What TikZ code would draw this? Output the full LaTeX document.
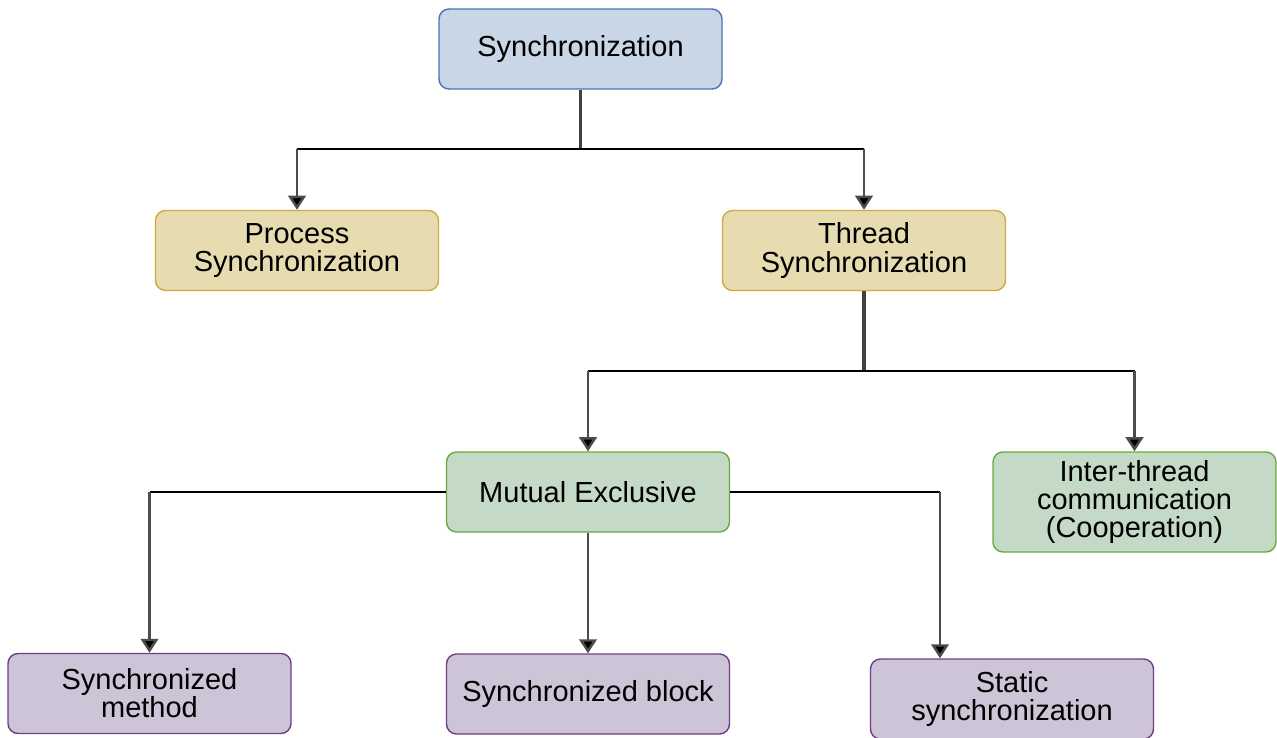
\documentclass[tikz,border=0pt]{standalone}
\usepackage{fontspec}
\setmainfont{Liberation Sans}
\usetikzlibrary{arrows.meta}

\definecolor{blueFill}{RGB}{200,214,230}
\definecolor{blueLine}{RGB}{74,114,184}
\definecolor{yellowFill}{RGB}{230,220,176}
\definecolor{yellowLine}{RGB}{212,170,62}
\definecolor{greenFill}{RGB}{197,218,198}
\definecolor{greenLine}{RGB}{104,170,64}
\definecolor{purpleFill}{RGB}{206,196,216}
\definecolor{purpleLine}{RGB}{112,62,132}

\tikzset{
  box/.style={draw, line width=0.8pt, rounded corners=0.2cm, minimum width=5.66cm,
    minimum height=1.6cm, align=center, font=\fontsize{16.5}{16}\selectfont},
  hline/.style={black, line width=0.8pt},
  stem/.style={black!70, line width=1.4pt, -{Triangle[width=10pt,length=8pt,fill=black]}},
  trunk/.style={black!75, line width=1.8pt}
}

\begin{document}
\begin{tikzpicture}
  \useasboundingbox (0,0) rectangle (25.54,-14.74);

  % boxes
  \node[box, fill=blueFill, draw=blueLine] (sync) at (11.61,-0.98) {Synchronization};
  \node[box, fill=yellowFill, draw=yellowLine] (proc) at (5.94,-5.01) {Process\\Synchronization};
  \node[box, fill=yellowFill, draw=yellowLine] (thread) at (17.28,-5.01) {Thread\\Synchronization};
  \node[box, fill=greenFill, draw=greenLine] (mutex) at (11.76,-9.84) {Mutual Exclusive};
  \node[box, fill=greenFill, draw=greenLine, minimum height=2cm] (inter) at (22.69,-10.04) {Inter-thread\\communication\\(Cooperation)};
  \node[box, fill=purpleFill, draw=purpleLine] (smeth) at (2.99,-13.87) {Synchronized\\method};
  \node[box, fill=purpleFill, draw=purpleLine] (sblock) at (11.76,-13.88) {Synchronized block};
  \node[box, fill=purpleFill, draw=purpleLine] (static) at (20.24,-13.98) {Static\\synchronization};

  % first level
  \coordinate (j1) at (11.61,-2.98);
  \draw[trunk] (sync.south) -- (j1);
  \draw[hline] (proc.north |- j1) -- (thread.north |- j1);
  \draw[stem] (proc.north |- j1) -- (proc.north);
  \draw[stem] (thread.north |- j1) -- (thread.north);

  % second level
  \coordinate (j2) at (17.28,-7.42);
  \draw[trunk] (thread.south) -- (j2);
  \draw[hline] (mutex.north |- j2) -- (inter.north |- j2);
  \draw[stem] (mutex.north |- j2) -- (mutex.north);
  \draw[stem] (inter.north |- j2) -- (inter.north);

  % third level
  \coordinate (k) at (18.8,-9.84);
  \draw[hline] (mutex.west) -- (smeth.north |- mutex.west);
  \draw[stem] (smeth.north |- mutex.west) -- (smeth.north);
  \draw[stem] (mutex.south) -- (sblock.north);
  \draw[hline] (mutex.east) -- (k);
  \draw[stem] (k) -- (k |- static.north);
\end{tikzpicture}
\end{document}
